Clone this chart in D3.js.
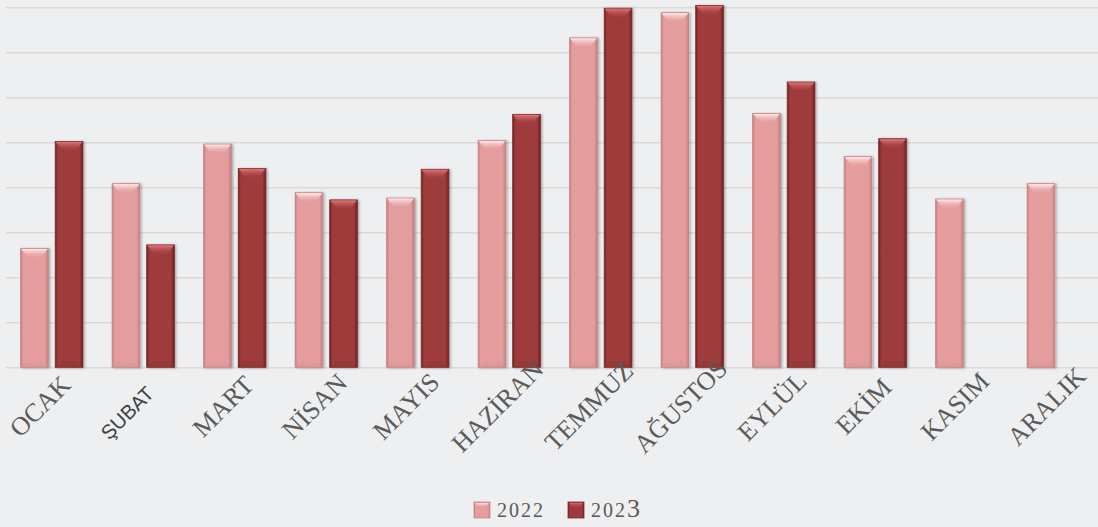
<!DOCTYPE html>
<html><head><meta charset="utf-8">
<script src="https://cdn.jsdelivr.net/npm/d3@7"></script>
<style>body{margin:0;background:#EEEFF1;} svg{display:block}</style>
</head><body><svg id="c" width="1098" height="527"></svg>
<script>
const months = ["OCAK","ŞUBAT","MART","NİSAN","MAYIS","HAZİRAN","TEMMUZ","AĞUSTOS","EYLÜL","EKİM","KASIM","ARALIK"];
const series = ["2022","2023"];
const values2022 = [132,204,248,194,188,252,366,394,282,234,187,204];
const values2023 = [251,136,221,186,220,281,399,402,317,254,null,null];
const yTicks = [0,50,100,150,200,250,300,350,400];

const seriesValues = {"2022": values2022, "2023": values2023};
const palette = {
  "2022": {main:"#E49C9D", edge:"#C27E7F", light:"#FBE0E0", dark:"#B77273", stroke:"#C48586"},
  "2023": {main:"#9E3A3B", edge:"#6C2021", light:"#D8706F", dark:"#5E1A1B", stroke:"#7A2A2B"}
};

const svg = d3.select("#c");
const W = 1098, H = 527;
const plotLeft = 6, plotRight = 1104, plotTop = 7.3, plotBottom = 367.3;

const x0 = d3.scaleBand().domain(months).range([plotLeft, plotRight]).paddingInner(0.32).paddingOuter(0.16);
const x1 = d3.scaleBand().domain(series).range([0, x0.bandwidth()]).paddingInner(0.2);
const y = d3.scaleLinear().domain([0, 400]).range([plotBottom, plotTop]);

const defs = svg.append("defs");
series.forEach(s => {
  const p = palette[s];
  const g = defs.append("linearGradient").attr("id","h"+s).attr("x1","0").attr("x2","1").attr("y1","0").attr("y2","0");
  g.append("stop").attr("offset","0%").attr("stop-color",p.edge);
  g.append("stop").attr("offset","9%").attr("stop-color",p.main);
  g.append("stop").attr("offset","88%").attr("stop-color",p.main);
  g.append("stop").attr("offset","100%").attr("stop-color",p.edge);
  const t = defs.append("linearGradient").attr("id","t"+s).attr("x1","0").attr("x2","0").attr("y1","0").attr("y2","1");
  t.append("stop").attr("offset","0%").attr("stop-color",p.light).attr("stop-opacity",1);
  t.append("stop").attr("offset","100%").attr("stop-color",p.main).attr("stop-opacity",0.2);
});
const f = defs.append("filter").attr("id","sh").attr("x","-20%").attr("y","-5%").attr("width","150%").attr("height","115%");
f.append("feDropShadow").attr("dx",1.5).attr("dy",0.5).attr("stdDeviation",1.2).attr("flood-color","#000").attr("flood-opacity",0.3);

// gridlines
const grid = svg.append("g").attr("transform",`translate(${plotLeft},0)`)
  .call(d3.axisLeft(y).tickValues(yTicks).tickSize(-(W - plotLeft)).tickFormat(""));
grid.select(".domain").remove();
grid.selectAll(".tick line").attr("stroke","#D9D9D9").attr("stroke-width",1.6);

// bars
const data = [];
months.forEach((m,i) => series.forEach(s => {
  const v = seriesValues[s][i];
  if (v != null) data.push({m, s, v});
}));

const bars = svg.append("g").selectAll("g.bar").data(data).join("g").attr("class","bar")
  .attr("transform", d => `translate(${x0(d.m) + x1(d.s)},${y(d.v)})`);
const bw = x1.bandwidth();
bars.append("rect").attr("width", bw).attr("height", d => y(0) - y(d.v))
  .attr("fill", d => `url(#h${d.s})`).attr("stroke", d => palette[d.s].stroke).attr("stroke-width",0.8)
  .attr("filter","url(#sh)");
bars.append("polygon")
  .attr("points", `1,1 ${bw-1},1 ${bw*0.72},10 ${bw*0.28},10`)
  .attr("fill", d => `url(#t${d.s})`);
bars.append("line").attr("x1",1).attr("x2",bw-1).attr("y1",1).attr("y2",1)
  .attr("stroke", d => palette[d.s].light).attr("stroke-width",1.2);
bars.append("polygon")
  .attr("points", d => { const h = y(0)-y(d.v); return `1,${h-0.5} ${bw-1},${h-0.5} ${bw*0.75},${h-6} ${bw*0.25},${h-6}`; })
  .attr("fill", d => palette[d.s].dark).attr("opacity",0.1);

// x labels
const labs = svg.append("g").selectAll("g.lab").data(months).join("g").attr("class","lab")
  .attr("transform", d => d === "ŞUBAT"
      ? `translate(${x0(d) + x0.bandwidth()/2 - 16},413)`
      : `translate(${x0(d) + x0.bandwidth()/2 - 12},406)`);
labs.append("text")
  .attr("transform","rotate(-45)")
  .attr("text-anchor","middle").attr("dy","0.35em")
  .attr("font-family", d => d === "ŞUBAT" ? "'Liberation Sans', Arial, sans-serif" : "'Liberation Serif', 'Times New Roman', serif")
  .attr("font-size", d => d === "ŞUBAT" ? 20 : 26)
  .attr("fill", d => d === "ŞUBAT" ? "#3f3f3f" : "#5a5a5a")
  .text(d => d);

// legend
const legX = [474, 568];
const leg = svg.append("g").selectAll("g").data(series).join("g")
  .attr("transform", (d,i) => `translate(${legX[i]},502)`);
leg.append("rect").attr("width",16).attr("height",16).attr("fill", d => `url(#h${d})`)
  .attr("stroke", d => palette[d].stroke).attr("stroke-width",0.8);
leg.append("polygon").attr("points","1,1 15,1 11,6 5,6").attr("fill", d => `url(#t${d})`);
const lt = leg.append("text").attr("x",23).attr("y",15)
  .attr("font-family","'Liberation Serif', 'Times New Roman', serif")
  .attr("font-size",20).attr("letter-spacing",2).attr("fill","#595959");
lt.each(function(d){
  const t = d3.select(this);
  if (d === "2023") {
    t.append("tspan").text(d.slice(0,3));
    t.append("tspan").attr("font-size",26).text(d.slice(3));
  } else t.text(d);
});
</script></body></html>
